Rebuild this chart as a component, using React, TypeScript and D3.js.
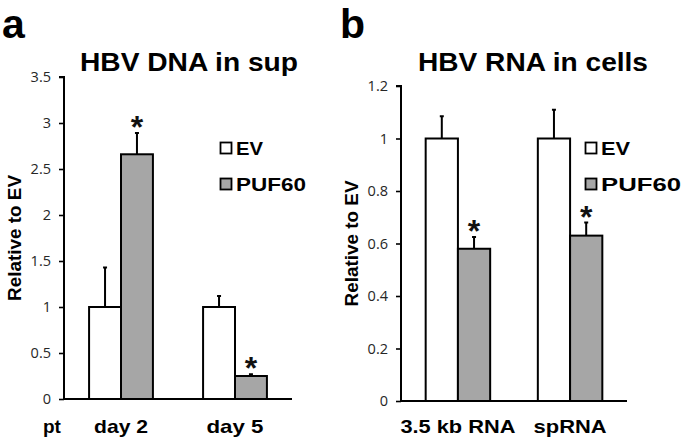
import { useEffect, useRef } from "react";
import * as d3 from "d3";

const WIDTH = 685;
const HEIGHT = 442;
const FILL_EV = "#ffffff";
const FILL_PUF = "#a6a6a6";
const BOLD = "Liberation Sans, Arial, sans-serif";
const TICK_FONT = "Open Sans, sans-serif";

const seriesNames = ["EV", "PUF60"];

const dnaCategories = ["day 2", "day 5"];
const dnaEv = [1, 1];
const dnaEvErr = [0.43, 0.12];
const dnaPuf = [2.66, 0.25];
const dnaPufErr = [0.23, 0.02];
const dnaStars = [true, true];
const dnaTicks = [0, 0.5, 1, 1.5, 2, 2.5, 3, 3.5];

const rnaCategories = ["3.5 kb RNA", "spRNA"];
const rnaEv = [1, 1];
const rnaEvErr = [0.085, 0.11];
const rnaPuf = [0.58, 0.63];
const rnaPufErr = [0.045, 0.05];
const rnaStars = [true, true];
const rnaTicks = [0, 0.2, 0.4, 0.6, 0.8, 1, 1.2];

type Panel = {
  letter: string;
  letterX: number;
  title: string;
  titleX: number;
  titleLen: number;
  categories: string[];
  catLens: number[];
  ev: number[];
  evErr: number[];
  puf: number[];
  pufErr: number[];
  stars: boolean[];
  ticks: number[];
  yMax: number;
  x0: number;
  x1: number;
  yTop: number;
  yBottom: number;
  padInner: number;
  padOuter: number;
  yLabelX: number;
  legendX: number;
  legendLens: number[];
  prefix?: string;
};

const panels: Panel[] = [
  {
    letter: "a",
    letterX: 2,
    title: "HBV DNA in sup",
    titleX: 189,
    titleLen: 218,
    categories: dnaCategories,
    catLens: [54, 57],
    ev: dnaEv,
    evErr: dnaEvErr,
    puf: dnaPuf,
    pufErr: dnaPufErr,
    stars: dnaStars,
    ticks: dnaTicks,
    yMax: 3.5,
    x0: 64,
    x1: 292,
    yTop: 77,
    yBottom: 399,
    padInner: 0.44,
    padOuter: 0.22,
    yLabelX: 21,
    legendX: 220,
    legendLens: [27, 70],
    prefix: "pt",
  },
  {
    letter: "b",
    letterX: 340,
    title: "HBV RNA in cells",
    titleX: 533,
    titleLen: 230,
    categories: rnaCategories,
    catLens: [115, 73],
    ev: rnaEv,
    evErr: rnaEvErr,
    puf: rnaPuf,
    pufErr: rnaPufErr,
    stars: rnaStars,
    ticks: rnaTicks,
    yMax: 1.2,
    x0: 401,
    x1: 627,
    yTop: 86,
    yBottom: 401,
    padInner: 0.425,
    padOuter: 0.22,
    yLabelX: 358,
    legendX: 585,
    legendLens: [29, 80],
  },
];

function drawPanel(svg: d3.Selection<SVGSVGElement, unknown, null, undefined>, p: Panel) {
  const g = svg.append("g");

  const y = d3.scaleLinear().domain([0, p.yMax]).range([p.yBottom, p.yTop]);
  const xGroup = d3
    .scaleBand<string>()
    .domain(p.categories)
    .range([p.x0, p.x1])
    .paddingInner(p.padInner)
    .paddingOuter(p.padOuter);
  const xSeries = d3.scaleBand<string>().domain(seriesNames).range([0, xGroup.bandwidth()]);

  // panel letter + title
  g.append("text")
    .attr("x", p.letterX)
    .attr("y", 38)
    .attr("font-family", BOLD)
    .attr("font-weight", "bold")
    .attr("font-size", 41)
    .text(p.letter);

  g.append("text")
    .attr("x", p.titleX)
    .attr("y", 71)
    .attr("text-anchor", "middle")
    .attr("font-family", BOLD)
    .attr("font-weight", "bold")
    .attr("font-size", 25.5)
    .attr("textLength", p.titleLen)
    .attr("lengthAdjust", "spacingAndGlyphs")
    .text(p.title);

  // y axis
  g.append("g")
    .attr("transform", `translate(${p.x0},0)`)
    .call(
      d3
        .axisLeft(y)
        .tickValues(p.ticks)
        .tickSize(5)
        .tickPadding(8)
        .tickFormat((d) => d3.format("~g")(d as number)),
    )
    .call((axis) => {
      axis.select(".domain").attr("stroke", "#000").attr("stroke-width", 2).attr("d", `M-5,${p.yTop}H0V${p.yBottom}`);
      axis.selectAll(".tick line").attr("stroke", "#000").attr("stroke-width", 1.6);
      axis
        .selectAll(".tick text")
        .attr("fill", "#262626")
        .attr("font-size", 14.5)
        .attr("font-family", TICK_FONT);
    });

  // baseline
  g.append("line")
    .attr("x1", p.x0)
    .attr("x2", p.x1)
    .attr("y1", y(0))
    .attr("y2", y(0))
    .attr("stroke", "#000")
    .attr("stroke-width", 2);

  // y label
  g.append("text")
    .attr("transform", `translate(${p.yLabelX},${(p.yTop + p.yBottom) / 2}) rotate(-90)`)
    .attr("text-anchor", "middle")
    .attr("font-family", BOLD)
    .attr("font-weight", "bold")
    .attr("font-size", 18.5)
    .attr("textLength", 126)
    .attr("lengthAdjust", "spacingAndGlyphs")
    .text("Relative to EV");

  const rows = p.categories.flatMap((c, i) => [
    { cat: c, s: "EV", v: p.ev[i], e: p.evErr[i], star: false, fill: FILL_EV },
    { cat: c, s: "PUF60", v: p.puf[i], e: p.pufErr[i], star: p.stars[i], fill: FILL_PUF },
  ]);
  const bx = (d: { cat: string; s: string }) => (xGroup(d.cat) ?? 0) + (xSeries(d.s) ?? 0);
  const cx = (d: { cat: string; s: string }) => bx(d) + xSeries.bandwidth() / 2;

  // error bars (upper only)
  g.append("g")
    .selectAll("path")
    .data(rows)
    .enter()
    .append("path")
    .attr("d", (d) => `M${cx(d)},${y(d.v)}V${y(d.v + d.e)}M${cx(d) - 2},${y(d.v + d.e)}H${cx(d) + 2}`)
    .attr("stroke", "#000")
    .attr("stroke-width", 2)
    .attr("fill", "none");

  g.append("g")
    .selectAll("rect")
    .data(rows)
    .enter()
    .append("rect")
    .attr("x", (d) => bx(d))
    .attr("y", (d) => y(d.v))
    .attr("width", xSeries.bandwidth())
    .attr("height", (d) => y(0) - y(d.v))
    .attr("fill", (d) => d.fill)
    .attr("stroke", "#000")
    .attr("stroke-width", 2);

  g.append("g")
    .selectAll("text")
    .data(rows.filter((d) => d.star))
    .enter()
    .append("text")
    .attr("x", (d) => cx(d))
    .attr("y", (d) => y(d.v + d.e) - 13 + 18)
    .attr("text-anchor", "middle")
    .attr("font-family", BOLD)
    .attr("font-weight", "bold")
    .attr("font-size", 32)
    .attr("fill", "#111")
    .text("*");

  // category labels
  g.append("g")
    .selectAll("text")
    .data(p.categories)
    .enter()
    .append("text")
    .attr("x", (d) => (xGroup(d) ?? 0) + xGroup.bandwidth() / 2)
    .attr("y", 433)
    .attr("text-anchor", "middle")
    .attr("font-family", BOLD)
    .attr("font-weight", "bold")
    .attr("font-size", 19)
    .attr("textLength", (_d, i) => p.catLens[i])
    .attr("lengthAdjust", "spacingAndGlyphs")
    .text((d) => d);

  if (p.prefix) {
    g.append("text")
      .attr("x", 43)
      .attr("y", 433)
      .attr("font-family", BOLD)
      .attr("font-weight", "bold")
      .attr("font-size", 19)
      .text(p.prefix);
  }

  // legend
  const legend = g.append("g").attr("transform", `translate(${p.legendX},0)`);
  const legendY = d3.scalePoint<string>().domain(seriesNames).range([148, 184]);
  seriesNames.forEach((s, i) => {
    const yy = legendY(s) ?? 0;
    legend
      .append("rect")
      .attr("x", 0.5)
      .attr("y", yy - 5.5)
      .attr("width", 11)
      .attr("height", 11)
      .attr("fill", i === 0 ? FILL_EV : FILL_PUF)
      .attr("stroke", "#000")
      .attr("stroke-width", 1.8);
    legend
      .append("text")
      .attr("x", 16)
      .attr("y", yy + 6.5)
      .attr("font-family", BOLD)
      .attr("font-weight", "bold")
      .attr("font-size", 18)
      .attr("textLength", p.legendLens[i])
      .attr("lengthAdjust", "spacingAndGlyphs")
      .text(s);
  });
}

export default function App() {
  const svgRef = useRef<SVGSVGElement>(null);

  useEffect(() => {
    const svg = d3.select(svgRef.current as SVGSVGElement);
    svg.selectAll("*").remove();
    svg.append("rect").attr("width", WIDTH).attr("height", HEIGHT).attr("fill", "#fff");
    panels.forEach((p) => drawPanel(svg, p));
  }, []);

  return (
    <svg
      ref={svgRef}
      width={WIDTH}
      height={HEIGHT}
      style={{ position: "absolute", left: 0, top: 0, display: "block" }}
    />
  );
}
